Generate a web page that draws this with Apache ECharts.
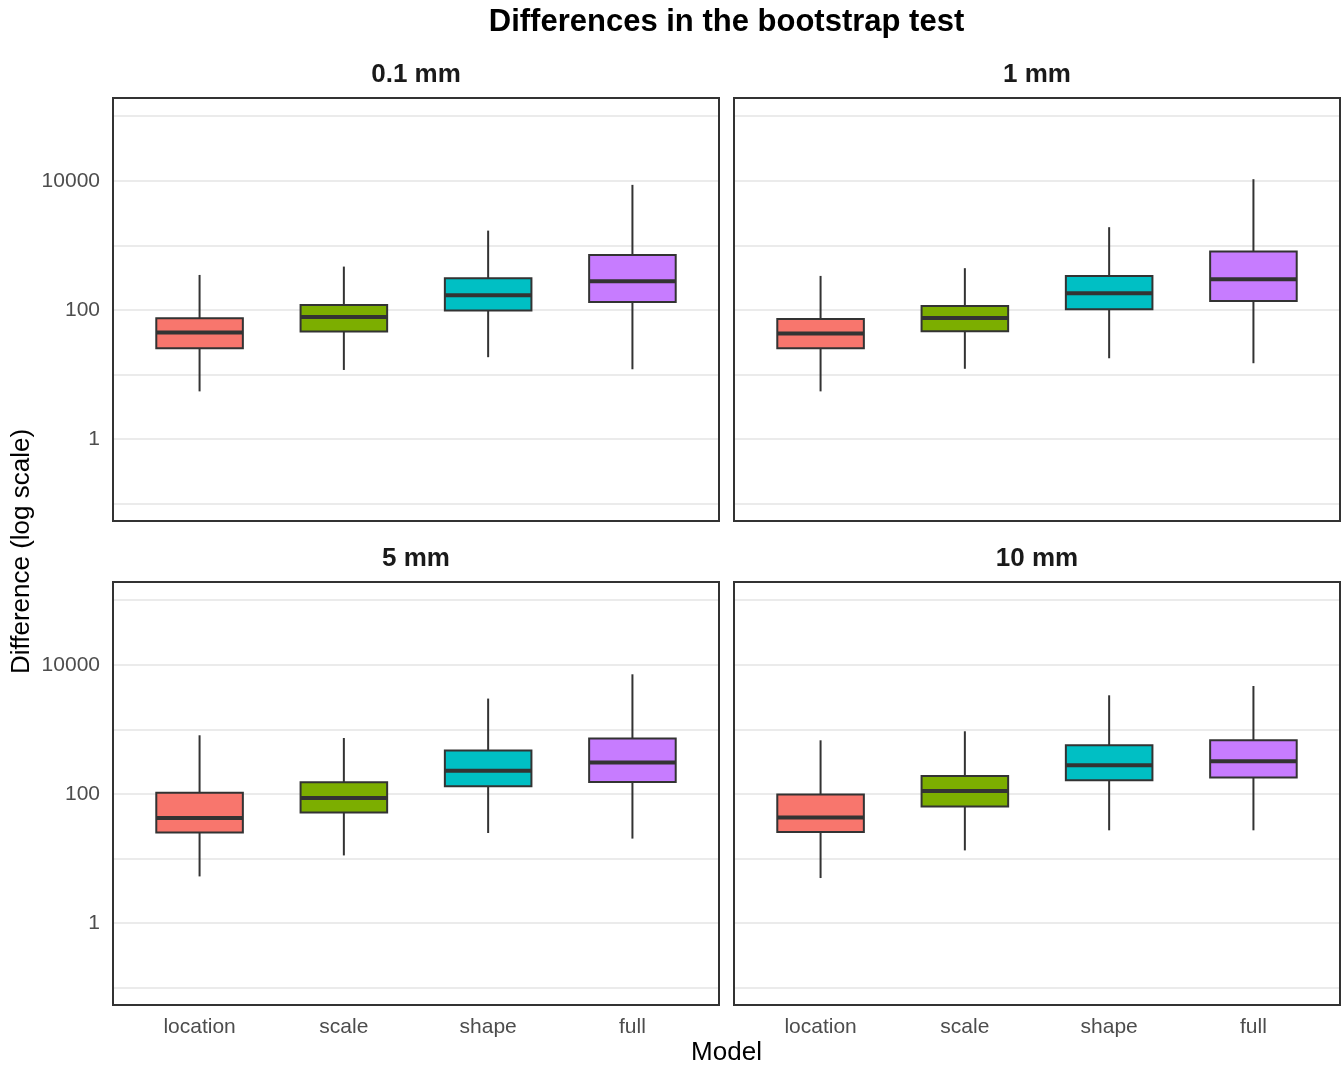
<!DOCTYPE html>
<html><head><meta charset="utf-8">
<script src="https://cdn.jsdelivr.net/npm/echarts@6/dist/echarts.min.js"></script>
<style>html,body{margin:0;padding:0;background:#fff}#c{width:1343px;height:1065px}</style>
</head><body><div id="c"></div><script>
// ---- data ----
const models = ['location', 'scale', 'shape', 'full'];
const panels = ['0.1 mm', '1 mm', '5 mm', '10 mm'];
const fills = ['#F8766D', '#7CAE00', '#00BFC4', '#C77CFF'];
// each row: [min, Q1, median, Q3, max] for location, scale, shape, full
const stats_01mm = [[5.5, 25.6, 44.7, 74.6, 349], [11.8, 46.3, 78.2, 120, 470], [18.6, 97.9, 169, 311, 1694], [12.1, 133.5, 279, 713, 8650]];
const stats_1mm  = [[5.5, 25.6, 43.1, 72.8, 337], [12.3, 47, 75.4, 115.7, 444], [17.9, 103, 182, 337, 1914], [15, 138, 300, 802, 10590]];
const stats_5mm  = [[5.3, 25.3, 42.5, 105, 811], [11.2, 51.5, 86.7, 152, 736], [24.9, 131.6, 230, 470, 3000], [20.4, 153, 306, 721, 7130]];
const stats_10mm = [[5.0, 25.8, 43.1, 97.9, 678], [13.4, 63.8, 111, 190, 935], [27.4, 163, 278, 567, 3373], [27.4, 179.5, 321, 678, 4696]];
const yLabelValues = [1, 100, 10000];
const yMin = 0.1, yMax = 100000;

const panelStats = [stats_01mm, stats_1mm, stats_5mm, stats_10mm];

// ---- layout ----
const FONT = '"Liberation Sans", Arial, Helvetica, sans-serif';
const PL = [113, 734], PT = [98, 582], PW = 606, PH = 423, PAD_TOP = 18.2, INNER_H = 387.6;

function renderBox(params, api) {
  const xi = api.value(0);
  const pMin = api.coord([xi, api.value(1)]);
  const pQ1 = api.coord([xi, api.value(2)]);
  const pMed = api.coord([xi, api.value(3)]);
  const pQ3 = api.coord([xi, api.value(4)]);
  const pMax = api.coord([xi, api.value(5)]);
  const half = api.size([0.6, 1], [xi, 10])[0] / 2;
  const cx = pMed[0];
  const fill = fills[Math.round(xi) - 1];
  const stroke = '#333333';
  return {
    type: 'group',
    children: [
      { type: 'line', shape: { x1: cx, y1: pMax[1], x2: cx, y2: pQ3[1] }, style: { stroke: stroke, lineWidth: 2 } },
      { type: 'line', shape: { x1: cx, y1: pQ1[1], x2: cx, y2: pMin[1] }, style: { stroke: stroke, lineWidth: 2 } },
      { type: 'rect', shape: { x: cx - half, y: pQ3[1], width: 2 * half, height: pQ1[1] - pQ3[1] }, style: { fill: fill, stroke: stroke, lineWidth: 2 } },
      { type: 'line', shape: { x1: cx - half, y1: pMed[1], x2: cx + half, y2: pMed[1] }, style: { stroke: stroke, lineWidth: 4 } }
    ]
  };
}

function yFmt(v) {
  const l = Math.log10(v), r = Math.round(l);
  if (Math.abs(l - r) > 1e-6) return '';
  const p = Math.pow(10, r);
  return yLabelValues.indexOf(p) >= 0 ? String(p) : '';
}

const grids = [], xAxes = [], yAxes = [], series = [], graphics = [];
panels.forEach(function (name, i) {
  const col = i % 2, row = Math.floor(i / 2);
  grids.push({ left: PL[col], top: PT[row] + PAD_TOP, width: PW, height: INNER_H, containLabel: false });
  xAxes.push({
    gridIndex: i, type: 'value', min: 0.4, max: 4.6,
    axisLine: { show: false }, axisTick: { show: false }, splitLine: { show: false },
    axisLabel: {
      show: row === 1, customValues: [1, 2, 3, 4],
      formatter: function (v) { return models[Math.round(v) - 1] || ''; },
      margin: 29, fontSize: 21, color: '#4d4d4d', fontFamily: FONT
    }
  });
  yAxes.push({
    gridIndex: i, type: 'log', logBase: 10, min: yMin, max: yMax, splitNumber: 6,
    axisLine: { show: false }, axisTick: { show: false },
    splitLine: { show: true, lineStyle: { color: '#ebebeb', width: 2 } },
    axisLabel: { show: col === 0, formatter: yFmt, margin: 13, fontSize: 21, color: '#4d4d4d', fontFamily: FONT }
  });
  series.push({
    type: 'custom', name: name, xAxisIndex: i, yAxisIndex: i,
    renderItem: renderBox,
    encode: { x: 0, y: [1, 2, 3, 4, 5] },
    data: panelStats[i].map(function (s, j) { return [j + 1].concat(s); }),
    z: 5
  });
  graphics.push({
    type: 'rect', z: 100, silent: true,
    shape: { x: PL[col], y: PT[row], width: PW, height: PH },
    style: { fill: 'none', stroke: '#333333', lineWidth: 2 }
  });
  graphics.push({
    type: 'text', z: 100, x: PL[col] + PW / 2, y: PT[row] - 23,
    style: { text: name, align: 'center', verticalAlign: 'middle', fontSize: 26, fontWeight: 'bold', fontFamily: FONT, fill: '#1a1a1a' }
  });
});

graphics.push({
  type: 'text', x: 726.5, y: 22,
  style: { text: 'Differences in the bootstrap test', align: 'center', verticalAlign: 'middle', fontSize: 31, fontWeight: 'bold', fontFamily: FONT, fill: '#000' }
});
graphics.push({
  type: 'text', x: 726.5, y: 1053,
  style: { text: 'Model', align: 'center', verticalAlign: 'middle', fontSize: 26, fontFamily: FONT, fill: '#000' }
});
graphics.push({
  type: 'text', x: 22, y: 551.5, rotation: Math.PI / 2,
  style: { text: 'Difference (log scale)', align: 'center', verticalAlign: 'middle', fontSize: 26, fontFamily: FONT, fill: '#000' }
});

const chart = echarts.init(document.getElementById('c'), null, { renderer: 'canvas' });
chart.setOption({
  animation: false,
  backgroundColor: '#ffffff',
  grid: grids, xAxis: xAxes, yAxis: yAxes, series: series,
  graphic: { elements: graphics }
});
</script></body></html>
